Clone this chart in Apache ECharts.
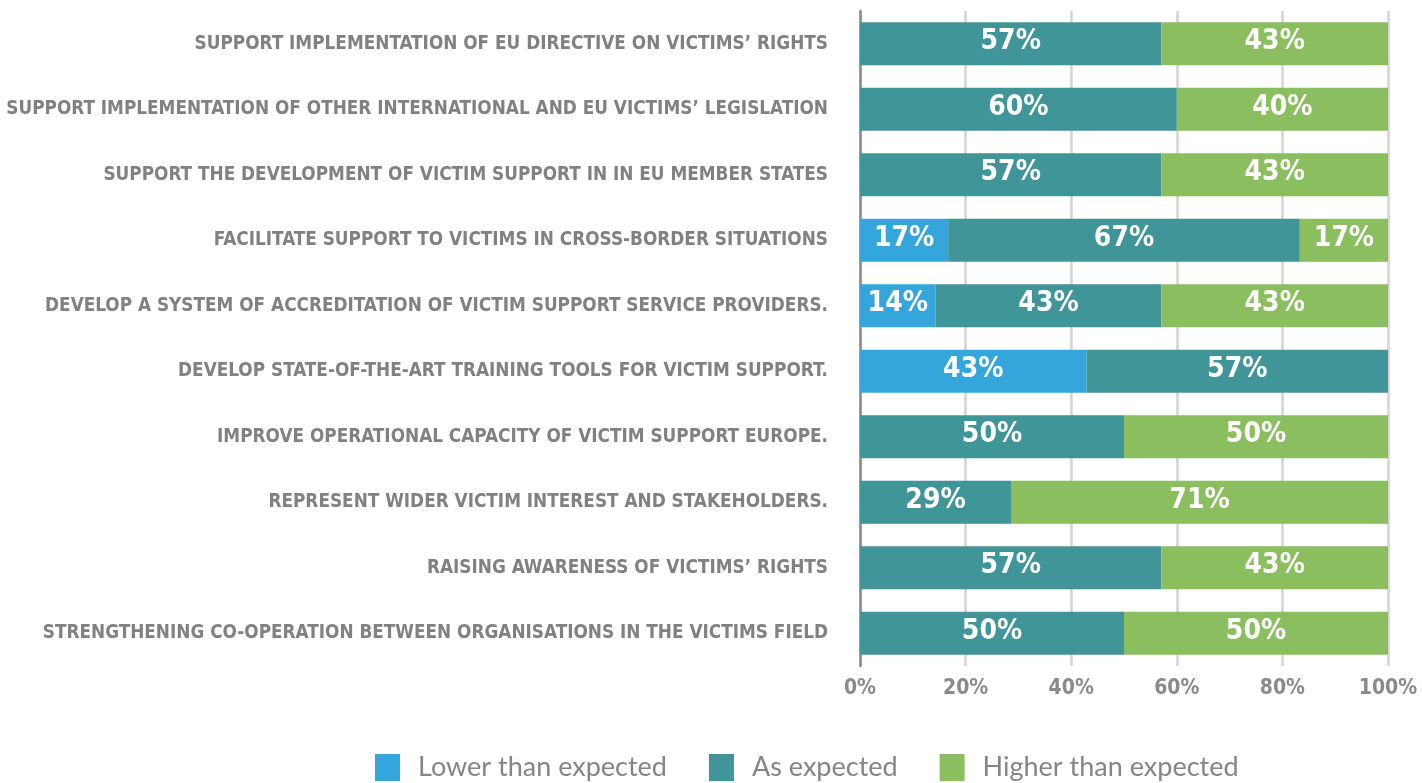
<!DOCTYPE html>
<html>
<head>
<meta charset="utf-8">
<script src="https://cdn.jsdelivr.net/npm/echarts@6/dist/echarts.min.js"></script>
<style>
  html, body { margin: 0; padding: 0; background: #fff; }
  #chart { width: 1422px; height: 783px; }
</style>
</head>
<body>
<div id="chart"></div>
<script>
  // categories, top to bottom as in the picture
  const categories = [
    'SUPPORT IMPLEMENTATION OF EU DIRECTIVE ON VICTIMS\u2019 RIGHTS',
    'SUPPORT IMPLEMENTATION OF OTHER INTERNATIONAL AND EU VICTIMS\u2019 LEGISLATION',
    'SUPPORT THE DEVELOPMENT OF VICTIM SUPPORT IN IN EU MEMBER STATES',
    'FACILITATE SUPPORT TO VICTIMS IN CROSS-BORDER SITUATIONS',
    'DEVELOP A SYSTEM OF ACCREDITATION OF VICTIM SUPPORT SERVICE PROVIDERS.',
    'DEVELOP STATE-OF-THE-ART TRAINING TOOLS FOR VICTIM SUPPORT.',
    'IMPROVE OPERATIONAL CAPACITY OF VICTIM SUPPORT EUROPE.',
    'REPRESENT WIDER VICTIM INTEREST AND STAKEHOLDERS.',
    'RAISING AWARENESS OF VICTIMS\u2019 RIGHTS',
    'STRENGTHENING CO-OPERATION BETWEEN ORGANISATIONS IN THE VICTIMS FIELD'
  ]
  const lowerValues = [0, 0, 0, 16.7, 14.3, 42.9, 0, 0, 0, 0]
  const asExpectedValues = [57.1, 60, 57.1, 66.6, 42.8, 57.1, 50, 28.6, 57.1, 50]
  const higherValues = [42.9, 40, 42.9, 16.7, 42.9, 0, 50, 71.4, 42.9, 50]
  const xTicks = [0, 20, 40, 60, 80, 100]

  const seriesNames = ['Lower than expected', 'As expected', 'Higher than expected']
  const colors = ['#35a6dc', '#3f9598', '#8bbe5e']
  const condensed = '"DejaVu Sans Condensed", "Liberation Sans Narrow", sans-serif'

  const chart = echarts.init(document.getElementById('chart'))

  function makeSeries(name, values, color) {
    return {
      name: name,
      type: 'bar',
      stack: 'total',
      barWidth: 43,
      itemStyle: { color: color },
      label: {
        show: true,
        position: 'inside',
        offset: [0, -2],
        color: '#fff',
        fontFamily: condensed,
        fontWeight: 'bold',
        fontSize: 28,
        formatter: p => (p.value > 0 ? Math.round(p.value) + '%' : '')
      },
      data: values.slice().reverse()
    }
  }

  const option = {
    backgroundColor: '#fff',
    animation: false,
    grid: { left: 860, right: 34, top: 11, bottom: 117, outerBoundsMode: 'none', containLabel: false },
    legend: {
      top: 749,
      left: 370,
      itemWidth: 25,
      itemHeight: 27,
      itemGap: 42,
      icon: 'rect',
      textStyle: {
        color: '#858585',
        fontSize: 27,
        fontFamily: 'Lato, "Open Sans", sans-serif',
        padding: [0, 0, 0, 13]
      },
      data: seriesNames
    },
    xAxis: {
      type: 'value',
      min: 0,
      max: 100,
      interval: 20,
      axisLine: { show: false },
      axisTick: { show: false },
      splitLine: { lineStyle: { color: '#d3d3d3', width: 2.5 } },
      axisLabel: {
        margin: 12,
        color: '#8a8a8a',
        fontFamily: condensed,
        fontWeight: 'bold',
        fontSize: 21,
        formatter: v => (xTicks.includes(v) ? v + '%' : '')
      }
    },
    yAxis: {
      type: 'category',
      data: categories.slice().reverse(),
      axisTick: { show: false },
      axisLine: { show: true, lineStyle: { color: '#8a8a8a', width: 2.5 } },
      axisLabel: {
        margin: 32,
        color: '#818181',
        fontFamily: condensed,
        fontWeight: 'bold',
        fontSize: 18.8
      }
    },
    series: [
      makeSeries(seriesNames[0], lowerValues, colors[0]),
      makeSeries(seriesNames[1], asExpectedValues, colors[1]),
      makeSeries(seriesNames[2], higherValues, colors[2])
    ]
  }

  chart.setOption(option)
</script>
</body>
</html>
